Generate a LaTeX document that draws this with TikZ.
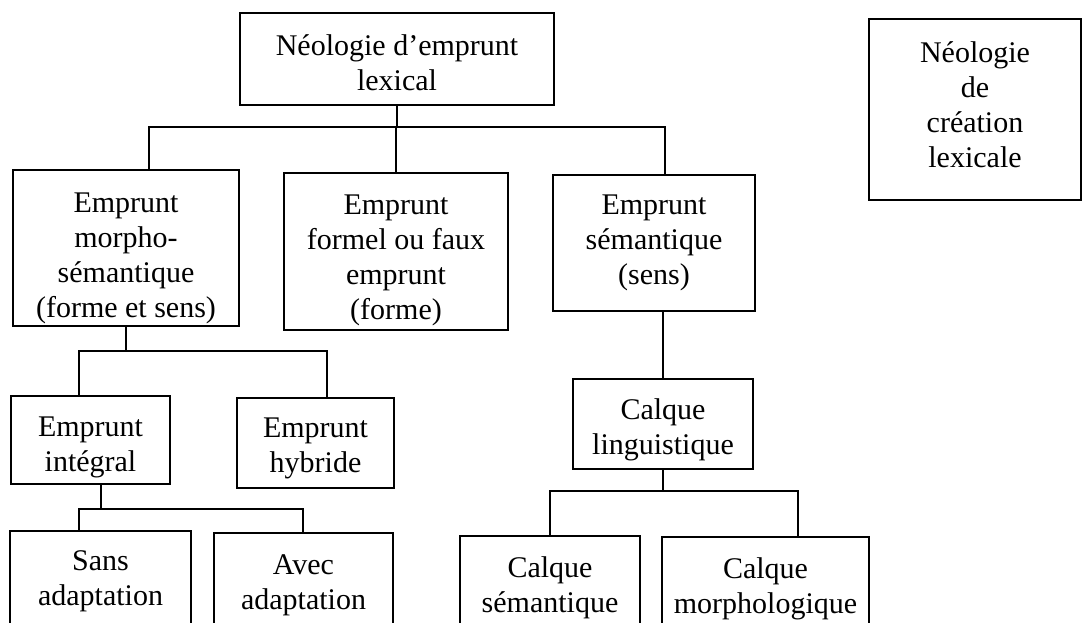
\documentclass[tikz,border=0pt]{standalone}
\usepackage{fontspec}
\setmainfont{Liberation Serif}

\begin{document}
\begin{tikzpicture}[x=0.5pt,y=-0.5pt,line width=0.8pt]
          \useasboundingbox (0,0) rectangle (1082,622);
          \clip (0,0) rectangle (1082,622);
          \tikzstyle{BoxStyle}=[draw, rectangle, inner sep=0pt, align=center,
            font=\fontsize{15}{17.5}\selectfont]
          % boxes
          \node[BoxStyle, minimum width=157pt, minimum height=46pt] (top) at (397,59) {\rule{0pt}{14.3pt}Néologie d’emprunt\\lexical};
          \node[BoxStyle, minimum width=106pt, minimum height=90.5pt] (cre) at (975,109.5) {Néologie\\de\\création\\lexicale\rule[-5pt]{0pt}{5pt}};
          \node[BoxStyle, minimum width=113pt, minimum height=78pt] (morpho) at (126,248) {\rule{0pt}{20pt}Emprunt\\morpho-\\sémantique\\(forme et sens)};
          \node[BoxStyle, minimum width=112pt, minimum height=78.5pt] (formel) at (396,251.5) {\rule{0pt}{19pt}Emprunt\\formel ou faux\\emprunt\\(forme)};
          \node[BoxStyle, minimum width=101pt, minimum height=68pt] (sem) at (654,243) {Emprunt\\sémantique\\(sens)};
          \node[BoxStyle, minimum width=79.5pt, minimum height=44pt] (integ) at (90.5,440) {\rule{0pt}{17pt}Emprunt\\intégral};
          \node[BoxStyle, minimum width=78.5pt, minimum height=45pt] (hybr) at (315.5,443) {\rule{0pt}{15pt}Emprunt\\hybride};
          \node[BoxStyle, minimum width=90pt, minimum height=45pt] (ling) at (663,424) {\rule{0pt}{16.25pt}Calque\\linguistique};
          \node[BoxStyle, minimum width=90.5pt, minimum height=50pt] (sans) at (100.5,581) {Sans\\adaptation};
          \node[BoxStyle, minimum width=89.5pt, minimum height=52pt] (avec) at (303.5,585) {Avec\\adaptation};
          \node[BoxStyle, minimum width=90pt, minimum height=52pt] (csem) at (550,588) {Calque\\sémantique};
          \node[BoxStyle, minimum width=103.5pt, minimum height=52pt] (cmor) at (765.5,589) {Calque\\morphologique};
          % junctions
          \coordinate (a1) at (149,127);
          \coordinate (a2) at (665,127);
          \coordinate (b1) at (79,351);
          \coordinate (b2) at (327,351);
          \coordinate (c1) at (79,509);
          \coordinate (c2) at (303,509);
          \coordinate (d1) at (550,491);
          \coordinate (d2) at (798,491);
          % edges
          \draw (top.south) -- (top.south |- a1);
          \draw (morpho.north -| a1) -- (a1) -- (a2) -- (sem.north -| a2);
          \draw (formel.north) -- (formel.north |- a1);
          \draw (morpho.south) -- (morpho.south |- b1);
          \draw (integ.north -| b1) -- (b1) -- (b2) -- (hybr.north -| b2);
          \draw ([xshift=5.25pt]integ.south) -- ([xshift=5.25pt]integ.south |- c1);
          \draw (sans.north -| c1) -- (c1) -- (c2) -- (avec.north -| c2);
          \draw (ling.north |- sem.south) -- (ling.north);
          \draw (ling.south) -- (ling.south |- d1);
          \draw (csem.north -| d1) -- (d1) -- (d2) -- (cmor.north -| d2);
        \end{tikzpicture}
\end{document}
